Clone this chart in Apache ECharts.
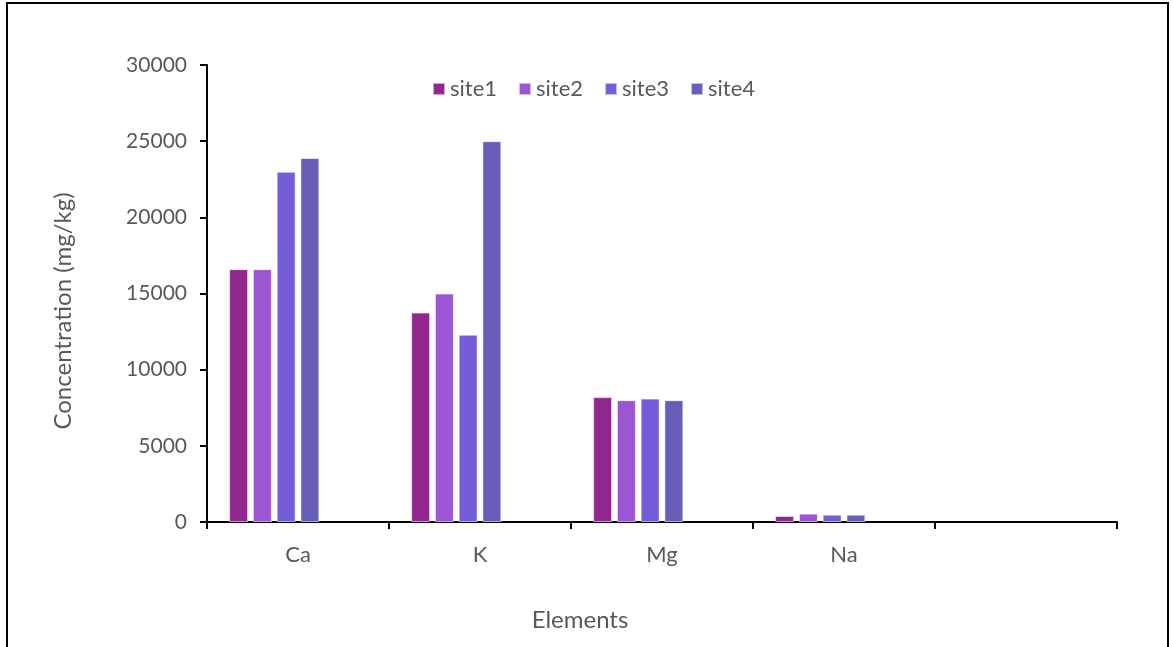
<!DOCTYPE html>
<html>
<head>
<meta charset="utf-8">
<script src="https://cdn.jsdelivr.net/npm/echarts@6/dist/echarts.min.js"></script>
<style>
html,body{margin:0;padding:0;background:#fff;}
#chart{width:1173px;height:647px;}
</style>
</head>
<body>
<div id="chart"></div>
<script>
const categories = ['Ca', 'K', 'Mg', 'Na', ''];
const site1 = [16600, 13750, 8200, 400, null];
const site2 = [16600, 15000, 8000, 550, null];
const site3 = [23000, 12300, 8100, 480, null];
const site4 = [23900, 25000, 8000, 480, null];
const emptySeries = [null, null, null, null, null];
const seriesNames = ['site1', 'site2', 'site3', 'site4'];
const colors = ['#92278F', '#9B57D3', '#755DD9', '#665EB8'];
const xTitle = 'Elements';
const yTitle = 'Concentration (mg/kg)';

const FONT = 'Lato';
const GREY = '#595959';
const chart = echarts.init(document.getElementById('chart'));

const dataSets = [site1, site2, site3, site4];
const series = dataSets.map((d, i) => ({
  name: seriesNames[i],
  type: 'bar',
  data: d,
  barWidth: 19,
  barGap: '25%',
  itemStyle: { color: colors[i], borderColor: 'rgba(255,255,255,0.6)', borderWidth: 1 }
}));
// two unused series slots, as in the original spreadsheet layout
series.push({ name: 'blank1', type: 'bar', data: emptySeries, barWidth: 19, barGap: '25%' });
series.push({ name: 'blank2', type: 'bar', data: emptySeries, barWidth: 19, barGap: '25%' });

chart.setOption({
  animation: false,
  backgroundColor: '#fff',
  textStyle: { fontFamily: FONT },
  graphic: [{
    type: 'rect',
    shape: { x: 7, y: 3, width: 1161, height: 660 },
    style: { fill: 'none', stroke: '#000', lineWidth: 2 },
    silent: true
  }, {
    type: 'text',
    x: 580, y: 620,
    style: { text: xTitle, fontFamily: FONT, fontSize: 24, fill: GREY, align: 'center', verticalAlign: 'middle' },
    silent: true
  }, {
    type: 'text',
    x: 63, y: 311,
    rotation: Math.PI / 2,
    style: { text: yTitle, fontFamily: FONT, fontSize: 24, fill: GREY, align: 'center', verticalAlign: 'middle' },
    silent: true
  }],
  legend: {
    data: seriesNames,
    top: 73,
    left: 427,
    itemWidth: 12,
    itemHeight: 12,
    itemGap: 21,
    icon: 'rect',
    textStyle: { fontFamily: FONT, fontSize: 22, color: GREY }
  },
  grid: { left: 207, right: 56, top: 65, bottom: 125, containLabel: false },
  xAxis: {
    type: 'category',
    data: categories,
    axisLine: { lineStyle: { color: '#000', width: 2 } },
    axisTick: { show: true, length: 7, lineStyle: { color: '#000', width: 2 } },
    axisLabel: { margin: 22, fontFamily: FONT, fontSize: 22, color: GREY },
    splitLine: { show: false }
  },
  yAxis: {
    type: 'value',
    min: 0,
    max: 30000,
    interval: 5000,
    axisLine: { show: true, lineStyle: { color: '#000', width: 2 } },
    axisTick: { show: true, length: 7, lineStyle: { color: '#000', width: 2 } },
    axisLabel: { margin: 20, fontFamily: FONT, fontSize: 21, color: GREY, formatter: v => String(v) },
    splitLine: { show: false }
  },
  series: series
});
</script>
</body>
</html>
